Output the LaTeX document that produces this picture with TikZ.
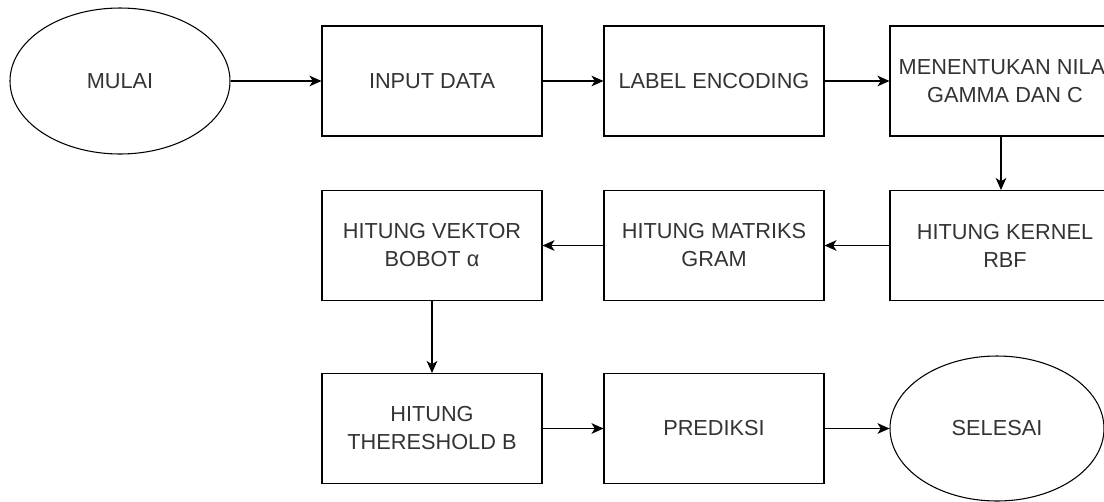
\documentclass[tikz,border=0pt]{standalone}
\usepackage{fontspec}
\setmainfont{Liberation Sans}
\usetikzlibrary{shapes.geometric}
\usetikzlibrary{arrows.meta}

\tikzset{
  langkah/.style={draw, line width=0.8pt, minimum width=165pt, minimum height=82.5pt,
    inner sep=0pt, align=center, text=black!80, font=\fontsize{16.3}{21}\selectfont},
  terminal/.style={draw, ellipse, line width=0.8pt, inner sep=0pt, text=black!80,
    font=\fontsize{16.3}{21}\selectfont},
  alur/.style={line width=0.8pt, -{Stealth[length=9pt, width=8pt, inset=2.5pt]}}
}

\begin{document}
\begin{tikzpicture}[x=0.75pt, y=-0.75pt]
  \useasboundingbox (0,0) rectangle (1104,501);
  \node[terminal, minimum width=165pt, minimum height=109.5pt] (mulai) at (120,81) {MULAI};
  \node[langkah] (input) at (432,81) {INPUT DATA};
  \node[langkah] (label) at (714,81) {LABEL ENCODING};
  \node[langkah, minimum width=172.5pt] (nilai) at (1005,81) {MENENTUKAN NILAI\\GAMMA DAN C};
  \node[langkah, minimum width=172.5pt] (kernel) at (1005,245.5) {HITUNG KERNEL\\RBF};
  \node[langkah] (gram) at (714,245.5) {HITUNG MATRIKS\\GRAM};
  \node[langkah] (bobot) at (432,245.5) {HITUNG VEKTOR\\BOBOT α};
  \node[langkah] (bias) at (432,428.5) {HITUNG\\THERESHOLD B};
  \node[langkah] (prediksi) at (714,428.5) {PREDIKSI};
  \node[terminal, minimum width=160.5pt, minimum height=108.75pt] (selesai) at (997,428.5) {SELESAI};

  \draw[alur] (mulai) -- (input);
  \draw[alur] (input) -- (label);
  \draw[alur] (label) -- (nilai);
  \draw[alur] (nilai.south -| 1001,0) -- (kernel.north -| 1001,0);
  \draw[alur] (kernel) -- (gram);
  \draw[alur] (gram) -- (bobot);
  \draw[alur] (bobot) -- (bias);
  \draw[alur] (bias) -- (prediksi);
  \draw[alur] (prediksi) -- (selesai);
\end{tikzpicture}
\end{document}
